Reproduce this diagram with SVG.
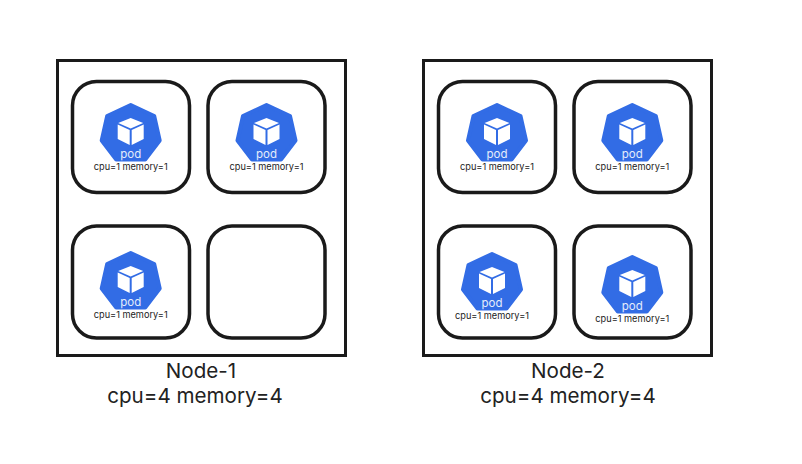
<svg xmlns="http://www.w3.org/2000/svg" width="802" height="464" viewBox="0 0 802 464">
<style>
.node{fill:#fff;stroke:#1a1a1a;stroke-width:3}
.slot{fill:#fff;stroke:#1a1a1a;stroke-width:3.5}
.hept{fill:#326ce5;stroke:#326ce5;stroke-width:4;stroke-linejoin:round}
.cube{fill:#fff}
text{font-family:"Inter","Liberation Sans",sans-serif;text-anchor:middle}
.pt{font-size:11.5px;fill:#e4ecfb}
.res{font-size:9.2px;fill:#222}
.lab{font-size:20.6px;fill:#222}
</style>
<defs>
<g id="pod-icon">
<polygon class="hept" points="0,2 23.5,13 29,37.5 14.5,56.5 -14.5,56.5 -29,37.5 -23.5,13"/>
<polygon class="cube" points="0,15 12.5,20 0,25.5 -12.5,20"/>
<polygon class="cube" points="-13,21.5 -1,27 -1,42 -13,36"/>
<polygon class="cube" points="13,21.5 1,27 1,42 13,36"/>
<text class="pt" x="0" y="55">pod</text>
<text class="res" x="0" y="67">cpu=1 memory=1</text>
</g>
</defs>
<g id="node-1">
<rect class="node" x="57.5" y="60.5" width="288" height="295"/>
<text class="lab" x="201" y="377.5">Node-1</text>
<text class="lab" x="195" y="402.5">cpu=4 memory=4</text>
</g>
<g id="node-2">
<rect class="node" x="423.5" y="60.5" width="288" height="295"/>
<text class="lab" x="568" y="377.5">Node-2</text>
<text class="lab" x="568" y="402.5">cpu=4 memory=4</text>
</g>
<g id="n1-slot-1"><rect class="slot" x="72.5" y="81.5" width="117" height="111" rx="24"/><use href="#pod-icon" x="130.7" y="103"/></g>
<g id="n1-slot-2"><rect class="slot" x="208" y="81.5" width="117" height="111" rx="24"/><use href="#pod-icon" x="266.5" y="103"/></g>
<g id="n1-slot-3"><rect class="slot" x="72.5" y="226" width="117" height="112" rx="24"/><use href="#pod-icon" x="130.7" y="251"/></g>
<g id="n1-slot-4"><rect class="slot" x="208" y="226" width="117" height="112" rx="24"/></g>
<g id="n2-slot-1"><rect class="slot" x="438.5" y="81.5" width="117" height="111" rx="24"/><use href="#pod-icon" x="497" y="103"/></g>
<g id="n2-slot-2"><rect class="slot" x="574" y="81.5" width="117" height="111" rx="24"/><use href="#pod-icon" x="632.3" y="103"/></g>
<g id="n2-slot-3"><rect class="slot" x="438.5" y="226" width="117" height="112" rx="24"/><use href="#pod-icon" x="492" y="252"/></g>
<g id="n2-slot-4"><rect class="slot" x="574" y="226" width="117" height="112" rx="24"/><use href="#pod-icon" x="632.3" y="255"/></g>
<g id="connectors"/>
</svg>
